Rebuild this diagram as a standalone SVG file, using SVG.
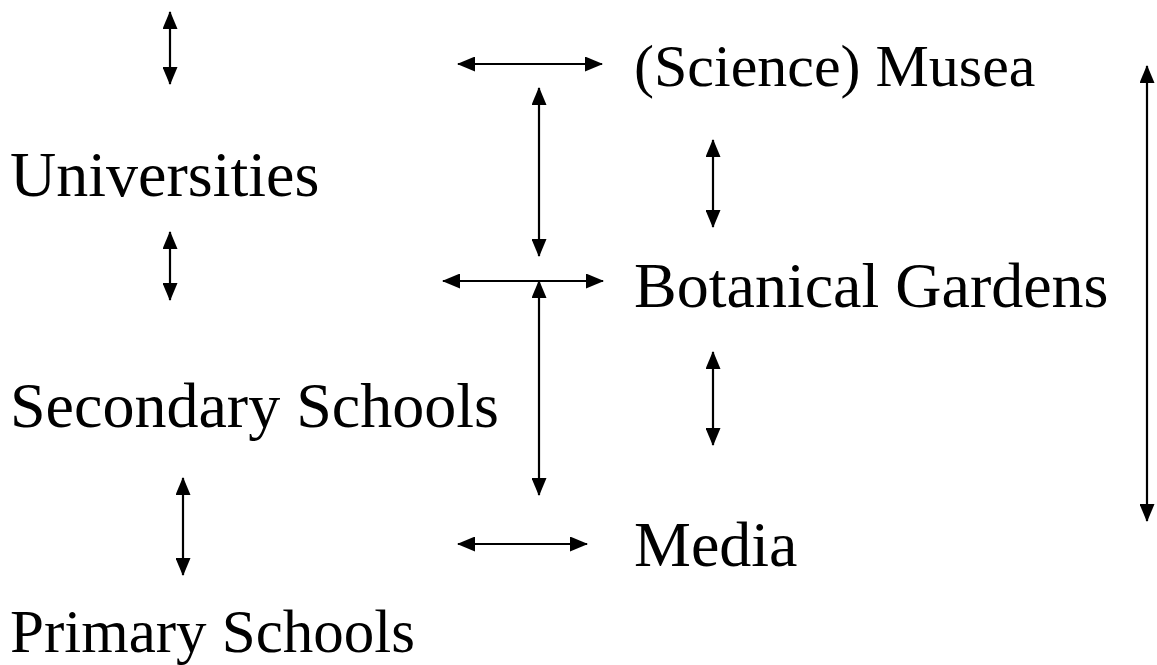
<svg xmlns="http://www.w3.org/2000/svg" width="1157" height="665" viewBox="0 0 1157 665">
<style>
text{font-family:"Liberation Serif","Times New Roman",serif;font-size:64px;fill:#000}
.c line{stroke:#000;stroke-width:2.2;marker-start:url(#a);marker-end:url(#a)}
</style>
<defs>
<marker id="a" markerUnits="userSpaceOnUse" markerWidth="18" markerHeight="15" refX="17" refY="7.5" orient="auto-start-reverse" viewBox="0 0 18 15"><path d="M0,0 L18,7.5 L0,15 Z" fill="#000"/></marker>
</defs>
<rect width="1157" height="665" fill="#fff"/>
<g id="musea"><text x="634" y="86" style="font-size:60px">(Science) Musea</text></g>
<g id="universities"><text x="10" y="196">Universities</text></g>
<g id="botanical"><text x="634" y="307">Botanical Gardens</text></g>
<g id="secondary"><text x="10" y="427">Secondary Schools</text></g>
<g id="media"><text x="634" y="566">Media</text></g>
<g id="primary"><text x="10" y="652" style="font-size:61px">Primary Schools</text></g>
<g class="c" id="connectors">
<line x1="170" y1="12" x2="170" y2="84"/>
<line x1="458" y1="64" x2="602" y2="64"/>
<line x1="539" y1="88" x2="539" y2="256"/>
<line x1="443" y1="281" x2="603" y2="281"/>
<line x1="539" y1="281" x2="539" y2="495"/>
<line x1="170" y1="232" x2="170" y2="300"/>
<line x1="713" y1="140" x2="713" y2="227"/>
<line x1="713" y1="352" x2="713" y2="445"/>
<line x1="183" y1="478" x2="183" y2="575"/>
<line x1="458" y1="544" x2="587" y2="544"/>
<line x1="1147" y1="66" x2="1147" y2="521"/>
</g>
</svg>
